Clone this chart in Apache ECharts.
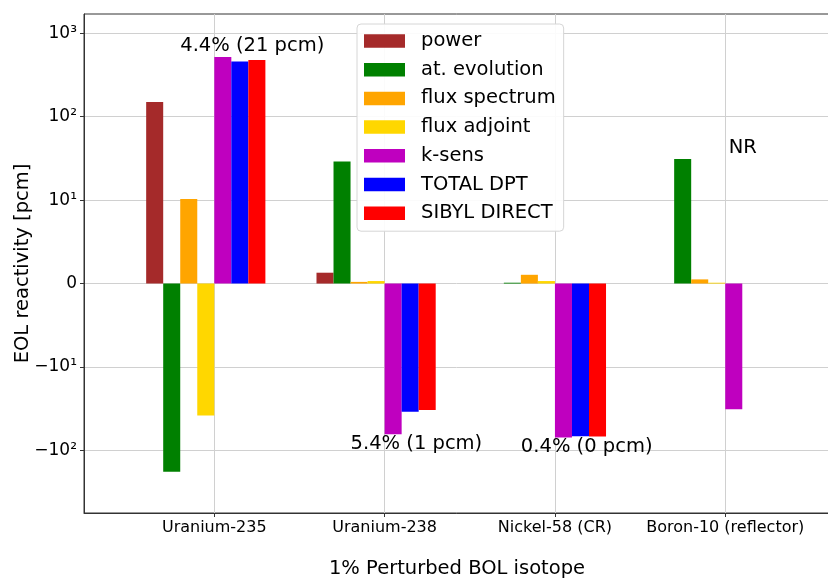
<!DOCTYPE html>
<html><head><meta charset="utf-8">
<script src="https://cdn.jsdelivr.net/npm/echarts@6/dist/echarts.min.js"></script>
<style>html,body{margin:0;padding:0;background:#fff}#c{width:828px;height:580px}</style>
</head><body><div id="c"></div>
<script>
// ---- data ----
const categories = ['Uranium-235', 'Uranium-238', 'Nickel-58 (CR)', 'Boron-10 (reflector)'];
const seriesNames = ['power', 'at. evolution', 'flux spectrum', 'flux adjoint', 'k-sens', 'TOTAL DPT', 'SIBYL DIRECT'];
const power        = [150, 1.3, null, null];
const atEvolution  = [-180, 29, 0.1, 31];
const fluxSpectrum = [10.3, 0.2, 1.05, 0.5];
const fluxAdjoint  = [-38, 0.3, 0.3, 0.1];
const kSens        = [520, -64, -70, -32];
const totalDPT     = [458, -34.5, -67.8, null];
const sibylDirect  = [479, -32.8, -68.1, null];
const yTickValues  = [-100, -10, 0, 10, 100, 1000];
const yTickLabels  = ['\u221210\u00b2', '\u221210\u00b9', '0', '10\u00b9', '10\u00b2', '10\u00b3'];
const yLimits      = [-562, 1700];
const xLimits      = [-0.765, 3.615];
const annotationTexts = ['4.4% (21 pcm)', '5.4% (1 pcm)', '0.4% (0 pcm)', 'NR'];
const annotationX     = [-0.2, 0.8, 1.8, 3.02];
const annotationY     = [700, -83, -90, 42];

// ---- style ----
const colors = ['#a52a2a', '#008000', '#ffa500', '#ffd700', '#bf00bf', '#0000ff', '#ff0000'];
const BAR_W = 0.1;
const LINTHRESH = 10;
const FONT = 'DejaVu Sans';

function symlog(v) {
  const a = Math.abs(v);
  if (a <= LINTHRESH) return v / LINTHRESH;
  return Math.sign(v) * (1 + Math.log10(a / LINTHRESH));
}

const allValues = [power, atEvolution, fluxSpectrum, fluxAdjoint, kSens, totalDPT, sibylDirect];
const yTickPos = yTickValues.map(symlog);

function barRender(i) {
  return function (params, api) {
    const cat = api.value(0), y = api.value(1);
    const p0 = api.coord([cat + (i - 4) * BAR_W, 0]);
    const p1 = api.coord([cat + (i - 3) * BAR_W, y]);
    return {
      type: 'rect',
      shape: { x: p0[0], y: Math.min(p0[1], p1[1]), width: p1[0] - p0[0], height: Math.abs(p1[1] - p0[1]) },
      style: { fill: colors[i] }
    };
  };
}

const series = allValues.map((vals, i) => ({
  type: 'custom',
  name: seriesNames[i],
  z: 1,
  itemStyle: { color: colors[i] },
  encode: { x: 0, y: 1 },
  renderItem: barRender(i),
  data: vals.map((v, k) => v == null ? null : [k, symlog(v)]).filter(d => d)
}));

series.push({
  type: 'custom',
  name: 'annotations',
  z: 5,
  encode: { x: 0, y: 1 },
  renderItem: function (params, api) {
    const p = api.coord([api.value(0), api.value(1)]);
    return {
      type: 'text', x: p[0], y: p[1],
      style: { text: annotationTexts[params.dataIndex], font: '19.5px "' + FONT + '"', fill: '#000', verticalAlign: 'middle', align: 'left' }
    };
  },
  data: annotationX.map((x, k) => [x, symlog(annotationY[k])])
});

const chart = echarts.init(document.getElementById('c'));
chart.setOption({
  animation: false,
  backgroundColor: '#fff',
  textStyle: { fontFamily: FONT },
  grid: { left: 84, top: 14, right: -2, bottom: 67, show: true, borderColor: '#333', borderWidth: 1, outerBoundsMode: 'none', containLabel: false },
  legend: {
    data: seriesNames.map(n => ({ name: n, icon: 'rect' })),
    orient: 'vertical', left: 357, top: 24,
    itemWidth: 41, itemHeight: 13.5, itemGap: 8.7,
    padding: [7, 8, 8, 7],
    backgroundColor: 'rgba(255,255,255,0.9)', borderColor: '#d6d6d6', borderWidth: 1, borderRadius: 4,
    textStyle: { fontFamily: FONT, fontSize: 19.5, color: '#000', padding: [0, 0, 0, 11] },
    z: 10
  },
  xAxis: {
    type: 'value', min: xLimits[0], max: xLimits[1],
    name: '1% Perturbed BOL isotope', nameLocation: 'middle', nameGap: 46, nameMoveOverlap: false,
    nameTextStyle: { fontFamily: FONT, fontSize: 19.5, color: '#000' },
    axisLine: { show: true, onZero: false, lineStyle: { color: '#333', width: 1 } },
    axisTick: { show: true, customValues: [0, 1, 2, 3], length: 4, lineStyle: { color: '#333' } },
    axisLabel: { customValues: [0, 1, 2, 3], formatter: v => categories[Math.round(v)], fontFamily: FONT, fontSize: 16, color: '#000', margin: 7 },
    splitLine: { show: true, lineStyle: { color: '#d0d0d0', width: 1 } }
  },
  yAxis: {
    type: 'value', min: symlog(yLimits[0]), max: symlog(yLimits[1]),
    name: 'EOL reactivity [pcm]', nameLocation: 'middle', nameGap: 51, nameMoveOverlap: false,
    nameTextStyle: { fontFamily: FONT, fontSize: 19.5, color: '#000' },
    axisLine: { show: true, onZero: false, lineStyle: { color: '#333', width: 1 } },
    axisTick: { show: true, customValues: yTickPos, length: 4, lineStyle: { color: '#333' } },
    axisLabel: {
      customValues: yTickPos,
      formatter: v => { let best = 0; yTickPos.forEach((p, k) => { if (Math.abs(p - v) < Math.abs(yTickPos[best] - v)) best = k; }); return yTickLabels[best]; },
      fontFamily: FONT, fontSize: 17, color: '#000', margin: 7
    },
    splitLine: { show: true, lineStyle: { color: '#d0d0d0', width: 1 } }
  },
  series: series
});
</script>
</body></html>
